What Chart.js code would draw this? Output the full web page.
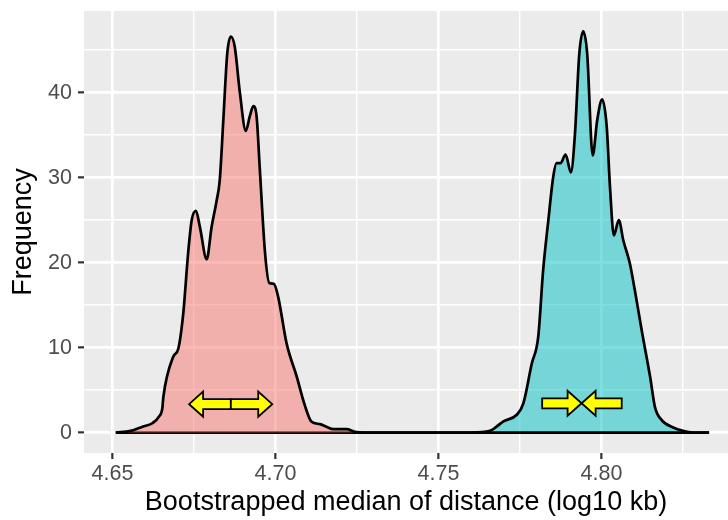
<!DOCTYPE html>
<html>
<head>
<meta charset="utf-8">
<script src="https://cdn.jsdelivr.net/npm/chart.js@4.4.1/dist/chart.umd.min.js"></script>
<style>
  html, body { margin: 0; padding: 0; background: #FFFFFF; }
  #wrap { width: 728px; height: 520px; }
</style>
</head>
<body>
<div id="wrap"><canvas id="c" width="728" height="520"></canvas></div>
<script>
/* density of bootstrapped medians */
var redX = [4.651, 4.6556, 4.6592, 4.6622, 4.6643, 4.6653, 4.6656, 4.6686, 4.6702, 4.6717, 4.6732, 4.6743,
  4.6756, 4.6768, 4.6789, 4.6804, 4.6819, 4.6829, 4.6840, 4.6852, 4.6863, 4.6875, 4.6891, 4.6909, 4.6921,
  4.6932, 4.6942, 4.6952, 4.6968, 4.6981, 4.6995, 4.7008, 4.7034, 4.7065, 4.7090, 4.7110, 4.7136, 4.7156,
  4.7177, 4.7218, 4.7243, 4.7270, 4.833];
var redY = [0, 0.2, 0.7, 1.1, 1.9, 2.9, 4.2, 8.9, 9.9, 14.0, 21.1, 25.0,
  26.1, 24.2, 20.4, 24.2, 27.2, 29.7, 36.8, 44.6, 46.6, 45.4, 39.9, 35.5, 37.2,
  38.4, 37.2, 30.9, 21.1, 17.6, 17.5, 16.0, 10.5, 6.6, 3.2, 1.3, 1.0, 0.7,
  0.4, 0.4, 0.1, 0, 0];

var cyanX = [4.651, 4.7600, 4.7658, 4.7678, 4.7698, 4.7740, 4.7760, 4.7786, 4.7806, 4.7821, 4.7837, 4.7852,
  4.7862, 4.7874, 4.7890, 4.7906, 4.7918, 4.7932, 4.7944, 4.7956, 4.7973, 4.7987, 4.8002, 4.8016, 4.8026,
  4.8038, 4.8053, 4.8067, 4.8087, 4.8102, 4.8123, 4.8149, 4.8164, 4.8184, 4.8220, 4.8250, 4.8280, 4.833];
var cyanY = [0, 0, 0.2, 0.7, 1.3, 2.1, 3.4, 8.1, 11.3, 19.1, 25.0, 30.1,
  31.7, 31.7, 32.7, 30.6, 34.8, 44.6, 47.2, 44.6, 32.6, 36.8, 39.2, 36.0, 28.9,
  23.2, 25.0, 22.6, 19.9, 16.8, 12.1, 6.6, 3.0, 1.5, 0.6, 0.2, 0, 0];

var xTicks = [4.65, 4.70, 4.75, 4.80];
var xMinor = [4.675, 4.725, 4.775, 4.825];
var yTicks = [0, 10, 20, 30, 40];
var yMinor = [5, 15, 25, 35, 45];

/* yellow arrows: tail -> tip, at height arrowY */
var arrowFrom = [4.6863, 4.6863, 4.7818, 4.8062];
var arrowTo   = [4.6735, 4.6990, 4.7939, 4.7939];
var arrowY    = [3.35, 3.35, 3.45, 3.45];

var FONT = '"Liberation Sans", Arial, Helvetica, sans-serif';

function pts(xs, ys) { return xs.map(function (x, i) { return { x: x, y: ys[i] }; }); }
function isMajor(list, v) { return list.some(function (t) { return Math.abs(t - v) < 1e-9; }); }
function tickList(a, b) { return a.concat(b).sort(function (p, q) { return p - q; }).map(function (v) { return { value: v }; }); }

/* grey ggplot panel */
var panelBg = {
  id: 'panelBg',
  beforeDraw: function (chart) {
    var a = chart.chartArea, ctx = chart.ctx;
    ctx.save();
    ctx.fillStyle = '#EBEBEB';
    ctx.fillRect(a.left, a.top, a.right - a.left, a.bottom - a.top);
    ctx.restore();
  }
};

var arrows = {
  id: 'arrows',
  afterDatasetsDraw: function (chart) {
    var xs = chart.scales.x, ys = chart.scales.y, ctx = chart.ctx;
    var SHAFT = 5, HEAD = 12.5, HEAD_LEN = 14;
    ctx.save();
    ctx.fillStyle = '#FFFF00';
    ctx.strokeStyle = '#000000';
    ctx.lineWidth = 1.8;
    ctx.lineJoin = 'miter';
    for (var i = 0; i < arrowFrom.length; i++) {
      var x0 = xs.getPixelForValue(arrowFrom[i]);
      var x1 = xs.getPixelForValue(arrowTo[i]);
      var y = ys.getPixelForValue(arrowY[i]);
      var dir = x1 > x0 ? 1 : -1;
      var hb = x1 - dir * HEAD_LEN;
      ctx.beginPath();
      ctx.moveTo(x0, y - SHAFT);
      ctx.lineTo(hb, y - SHAFT);
      ctx.lineTo(hb, y - HEAD);
      ctx.lineTo(x1, y);
      ctx.lineTo(hb, y + HEAD);
      ctx.lineTo(hb, y + SHAFT);
      ctx.lineTo(x0, y + SHAFT);
      ctx.closePath();
      ctx.fill();
      ctx.stroke();
    }
    ctx.restore();
  }
};

function densitySet(label, xs, ys, fillColor) {
  return {
    label: label, data: pts(xs, ys),
    borderColor: '#000000', borderWidth: 2.7,
    backgroundColor: fillColor, fill: 'origin',
    pointRadius: 0, cubicInterpolationMode: 'monotone'
  };
}

new Chart(document.getElementById('c'), {
  type: 'line',
  data: {
    datasets: [
      densitySet('a', redX, redY, 'rgba(248,118,109,0.5)'),
      densitySet('b', cyanX, cyanY, 'rgba(0,191,196,0.5)')
    ]
  },
  options: {
    responsive: false, animation: false,
    layout: { padding: { top: 11, right: 0, bottom: 0, left: 0 } },
    plugins: { legend: { display: false }, tooltip: { enabled: false } },
    scales: {
      x: {
        type: 'linear', min: 4.641258, max: 4.838804,
        afterBuildTicks: function (s) { s.ticks = tickList(xTicks, xMinor); },
        afterFit: function (s) { s.height = 67; s.paddingLeft = 0; s.paddingRight = 0; },
        border: { display: false },
        grid: {
          color: '#FFFFFF',
          lineWidth: function (c) { return c.tick && isMajor(xTicks, c.tick.value) ? 2.7 : 1.4; },
          tickColor: function (c) { return c.tick && isMajor(xTicks, c.tick.value) ? '#333333' : 'rgba(0,0,0,0)'; },
          tickLength: 6, tickWidth: 2.2
        },
        ticks: {
          autoSkip: false, maxRotation: 0, padding: 2,
          color: '#4D4D4D', font: { family: FONT, size: 21.5 },
          callback: function (v) { return isMajor(xTicks, v) ? v.toFixed(2) : ''; }
        },
        title: {
          display: true, text: 'Bootstrapped median of distance (log10 kb)',
          color: '#000000', font: { family: FONT, size: 27 },
          padding: { top: 0, bottom: 1 }
        }
      },
      y: {
        min: -2.4, max: 49.6,
        afterBuildTicks: function (s) { s.ticks = tickList(yTicks, yMinor); },
        afterFit: function (s) { s.width = 84; s.paddingTop = 0; s.paddingBottom = 0; },
        border: { display: false },
        grid: {
          color: '#FFFFFF',
          lineWidth: function (c) { return c.tick && isMajor(yTicks, c.tick.value) ? 2.7 : 1.4; },
          tickColor: function (c) { return c.tick && isMajor(yTicks, c.tick.value) ? '#333333' : 'rgba(0,0,0,0)'; },
          tickLength: 6, tickWidth: 2.2
        },
        ticks: {
          padding: 6, color: '#4D4D4D', font: { family: FONT, size: 21.5 },
          callback: function (v) { return isMajor(yTicks, v) ? String(v) : ''; }
        },
        title: {
          display: true, text: 'Frequency',
          color: '#000000', font: { family: FONT, size: 27 },
          padding: { top: 7, bottom: 0 }
        }
      }
    }
  },
  plugins: [panelBg, arrows]
});
</script>
</body>
</html>
